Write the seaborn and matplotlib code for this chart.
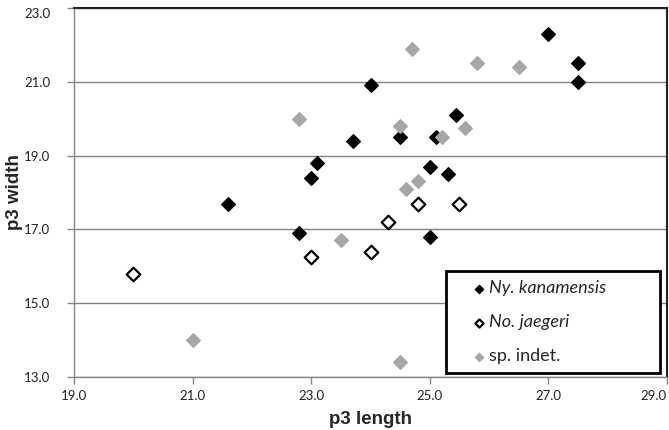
import pandas as pd
import matplotlib
matplotlib.use("Agg")
import matplotlib.pyplot as plt
from matplotlib.patches import Rectangle
import seaborn as sns

# p3 length / width per group
kan_len = [21.6, 22.8, 23.0, 23.1, 23.7, 24.0, 24.5, 25.0, 25.0, 25.1, 25.3, 25.45, 27.0, 27.5, 27.5]
kan_wid = [17.7, 16.9, 18.4, 18.8, 19.4, 20.9, 19.5, 18.7, 16.8, 19.5, 18.5, 20.1, 22.3, 21.5, 21.0]

jae_len = [20.0, 23.0, 24.0, 24.3, 24.8, 25.5]
jae_wid = [15.8, 16.25, 16.4, 17.2, 17.7, 17.7]

ind_len = [21.0, 22.8, 23.5, 24.5, 24.5, 24.6, 24.7, 24.8, 25.2, 25.6, 25.8, 26.5]
ind_wid = [14.0, 20.0, 16.7, 13.4, 19.8, 18.1, 21.9, 18.3, 19.5, 19.75, 21.5, 21.4]

groups = ["Ny. kanamensis", "No. jaegeri", "sp. indet."]
x_ticks = [19, 21, 23, 25, 27, 29]
y_ticks = [13, 15, 17, 19, 21, 23]

df = pd.concat([
    pd.DataFrame({"length": kan_len, "width": kan_wid, "group": groups[0]}),
    pd.DataFrame({"length": jae_len, "width": jae_wid, "group": groups[1]}),
    pd.DataFrame({"length": ind_len, "width": ind_wid, "group": groups[2]}),
])

sns.set_theme(style="white")
plt.rcParams["font.family"] = ["Lato", "DejaVu Sans"]

fig, ax = plt.subplots(figsize=(6.69, 4.30), dpi=100)
fig.subplots_adjust(left=74 / 669, right=667 / 669, top=1 - 8 / 430, bottom=1 - 377 / 430)

# face / edge per group
styles = {
    "Ny. kanamensis": dict(color="black", edgecolor="black", linewidth=1.0),
    "No. jaegeri": dict(color="white", edgecolor="black", linewidth=1.6),
    "sp. indet.": dict(color="#a6a6a6", edgecolor="#a6a6a6", linewidth=1.0),
}
for g in groups:
    sns.scatterplot(data=df[df["group"] == g], x="length", y="width", marker="D",
                    s=48, label=g, ax=ax, zorder=3, **styles[g])

ax.set_xlim(19, 29)
ax.set_ylim(13, 23)
ax.set_xticks(x_ticks)
ax.set_yticks(y_ticks)
ax.set_xticklabels([f"{v:.1f}" for v in x_ticks], fontsize=9.5, color="#222222")
ax.set_yticklabels([f"{v:.1f}" for v in y_ticks], fontsize=9.5, color="#222222")
ax.get_xticklabels()[-1].set_horizontalalignment("right")
ax.get_yticklabels()[-1].set_verticalalignment("top")
ax.yaxis.grid(True, color="#808080", linewidth=1.0)
ax.xaxis.grid(False)
ax.set_axisbelow(True)
ax.tick_params(axis="both", which="major", direction="out", length=5, width=1,
               color="#868686", bottom=True, left=True)
ax.tick_params(axis="x", pad=4)
ax.tick_params(axis="y", pad=12)

for side in ["left", "bottom"]:
    ax.spines[side].set_color("#868686")
    ax.spines[side].set_linewidth(1.0)
for side in ["top", "right"]:
    ax.spines[side].set_color("#222222")
    ax.spines[side].set_linewidth(1.5)

ax.set_xlabel("p3 length", fontsize=13.5, fontweight="bold", family="Liberation Sans", labelpad=7)
ax.set_ylabel("p3 width", fontsize=13.5, fontweight="bold", family="Liberation Sans", labelpad=1)

# legend box
ax.add_patch(Rectangle((0.627, 0.01), 0.361, 0.277, transform=ax.transAxes,
                       facecolor="white", edgecolor="black", linewidth=2, zorder=4))
leg = ax.legend(loc="upper left", bbox_to_anchor=(0.674, 0.262), frameon=False,
                fontsize=13, markerscale=0.6, handlelength=0.6, handletextpad=0.25,
                labelspacing=1.0, borderaxespad=0, borderpad=0)
leg.set_zorder(5)
for t in leg.get_texts()[:2]:
    t.set_fontstyle("italic")

fig.savefig("out.png", dpi=100)
